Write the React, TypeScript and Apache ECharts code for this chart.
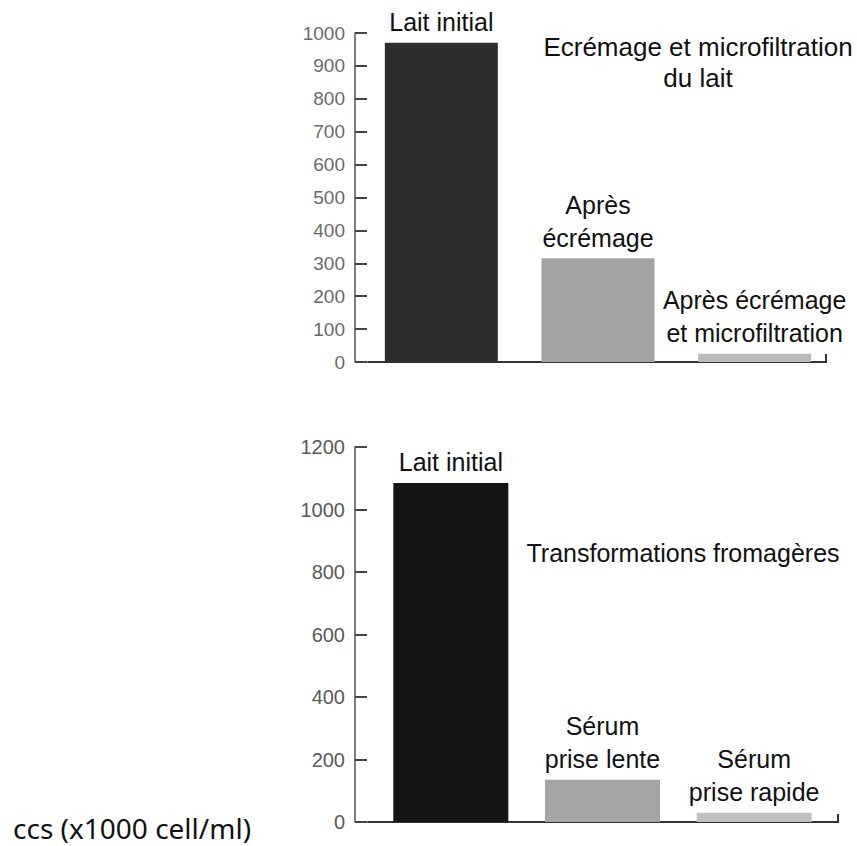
import React, { useEffect, useRef } from "react";
import * as echarts from "echarts";

const topCategories = ["Lait initial", "Après\nécrémage", "Après écrémage\net microfiltration"];
const topValues = [970, 315, 25];
const topColors = ["#2e2e2e", "#a3a3a3", "#bababa"];
const topTicks = { min: 0, max: 1000, interval: 100 };

const bottomCategories = ["Lait initial", "Sérum\nprise lente", "Sérum\nprise rapide"];
const bottomValues = [1085, 135, 30];
const bottomColors = ["#151515", "#a5a5a5", "#c0c0c0"];
const bottomTicks = { min: 0, max: 1200, interval: 200 };

const topTitle = "Ecrémage et microfiltration\ndu lait";
const bottomTitle = "Transformations fromagères";
const unitLabel = "ccs (x1000 cell/ml)";

const FONT = '"Liberation Sans", Arial, sans-serif';

export default function App() {
  const ref = useRef<HTMLDivElement>(null);
  useEffect(() => {
    if (!ref.current) return;
    const chart = echarts.init(ref.current, null, { renderer: "svg" });
    // visible vertical axis line only
    const lineY = (gridIndex: number, ticks: any) => ({
      type: "value",
      gridIndex,
      position: "left",
      ...ticks,
      splitLine: { show: false },
      axisLine: { show: true, lineStyle: { color: "#555", width: 1.5 } },
      axisTick: { show: false },
      axisLabel: { show: false },
    });
    // axis 12px to the right: its outward ticks reach back to the visible line, labels sit left of it
    const tickLabelY = (gridIndex: number, fontSize: number, color: string, ticks: any) => ({
      type: "value",
      gridIndex,
      position: "left",
      ...ticks,
      splitLine: { show: false },
      axisLine: { show: true, lineStyle: { color: "#ffffff", width: 0.5 } },
      axisTick: { show: true, inside: false, length: 12, lineStyle: { color: "#444", width: 2 } },
      axisLabel: { show: true, fontFamily: FONT, fontSize, color, margin: 22, formatter: (v: number) => String(v) },
    });
    const hiddenY = (gridIndex: number, ticks: any) => ({
      type: "value",
      gridIndex,
      ...ticks,
      show: false,
      splitLine: { show: false },
    });
    const hiddenX = (gridIndex: number, data: string[]) => ({
      type: "category",
      gridIndex,
      data,
      axisLine: { show: false },
      axisTick: { show: false },
      axisLabel: { show: false },
    });
    const labelStyle = {
      show: true,
      position: "top",
      distance: 4,
      fontFamily: FONT,
      fontSize: 25,
      lineHeight: 33,
      color: "#111",
    };
    chart.setOption({
      animation: false,
      backgroundColor: "#fff",
      grid: [
        { left: 363, top: 33, width: 470, height: 329 },
        { left: 375, top: 447, width: 455, height: 375 },
        { left: 355, top: 33, width: 470, height: 329 },
        { left: 355, top: 447, width: 470, height: 375 },
        { left: 367, top: 33, width: 458, height: 329 },
        { left: 367, top: 447, width: 458, height: 375 },
      ],
      xAxis: [
        hiddenX(0, topCategories),
        hiddenX(1, bottomCategories),
        hiddenX(2, topCategories),
        hiddenX(3, bottomCategories),
        hiddenX(4, topCategories),
        hiddenX(5, bottomCategories),
      ],
      yAxis: [
        hiddenY(0, topTicks),
        hiddenY(1, bottomTicks),
        lineY(2, topTicks),
        lineY(3, bottomTicks),
        tickLabelY(4, 19, "#6a6a6a", topTicks),
        tickLabelY(5, 20, "#5a5a5a", bottomTicks),
      ],
      series: [
        {
          type: "bar",
          xAxisIndex: 0,
          yAxisIndex: 0,
          barWidth: 113,
          data: topValues.map((v, i) => ({ value: v, itemStyle: { color: topColors[i] } })),
          label: { ...labelStyle, formatter: (p: any) => topCategories[p.dataIndex] },
        },
        {
          type: "bar",
          xAxisIndex: 1,
          yAxisIndex: 1,
          barWidth: 115,
          data: bottomValues.map((v, i) => ({ value: v, itemStyle: { color: bottomColors[i] } })),
          label: { ...labelStyle, formatter: (p: any) => bottomCategories[p.dataIndex] },
        },
      ],
      graphic: [
        {
          type: "polyline",
          shape: { points: [[355, 362], [826, 362], [826, 354]] },
          style: { stroke: "#333", lineWidth: 2, fill: null },
        },
        {
          type: "polyline",
          shape: { points: [[355, 822], [838, 822], [838, 814]] },
          style: { stroke: "#333", lineWidth: 2, fill: null },
        },
        {
          type: "text",
          x: 698,
          y: 62,
          style: {
            text: topTitle,
            font: `26px ${FONT}`,
            fill: "#111",
            align: "center",
            verticalAlign: "middle",
            lineHeight: 31,
          },
        },
        {
          type: "text",
          x: 683,
          y: 553,
          style: {
            text: bottomTitle,
            font: `25px ${FONT}`,
            fill: "#111",
            align: "center",
            verticalAlign: "middle",
          },
        },
        {
          type: "text",
          x: 13,
          y: 828,
          style: {
            text: unitLabel,
            font: '28px "Noto Sans", sans-serif',
            fill: "#111",
            align: "left",
            verticalAlign: "middle",
          },
        },
      ],
    });
    return () => chart.dispose();
  }, []);
  return (
    <div
      ref={ref}
      style={{ position: "absolute", left: 0, top: 0, width: 857, height: 846 }}
    />
  );
}
